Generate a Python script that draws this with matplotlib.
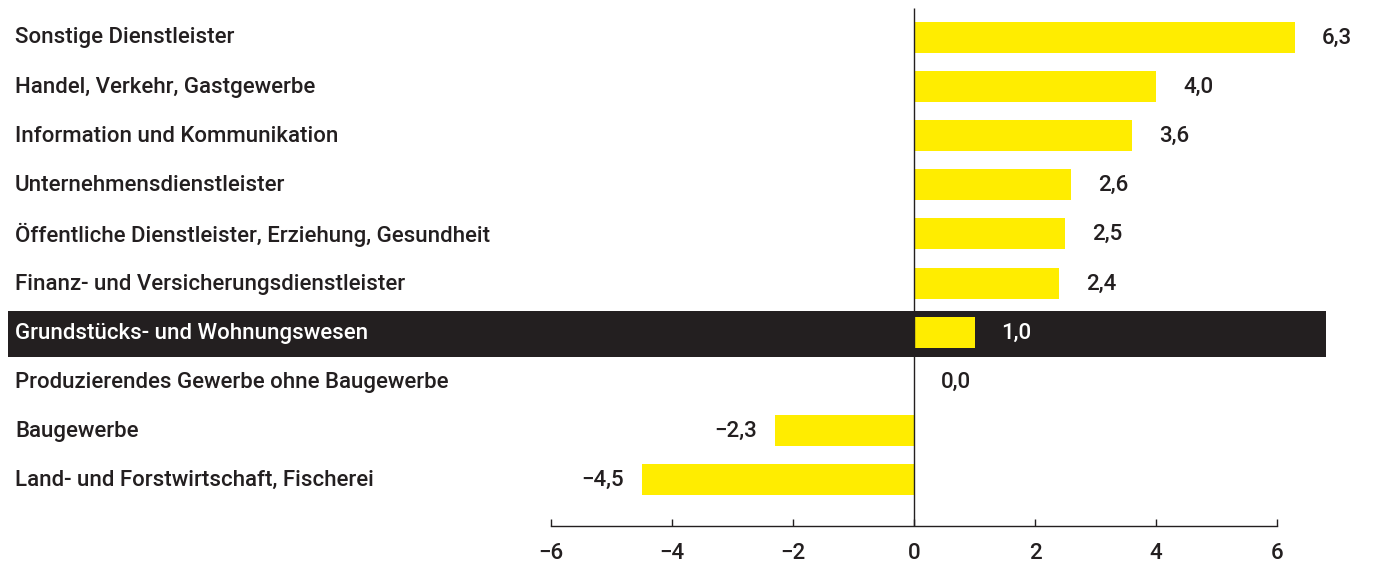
import matplotlib
matplotlib.use("Agg")
import matplotlib.pyplot as plt
from matplotlib.patches import Rectangle

categories = [
    "Sonstige Dienstleister",
    "Handel, Verkehr, Gastgewerbe",
    "Information und Kommunikation",
    "Unternehmensdienstleister",
    "Öffentliche Dienstleister, Erziehung, Gesundheit",
    "Finanz- und Versicherungsdienstleister",
    "Grundstücks- und Wohnungswesen",
    "Produzierendes Gewerbe ohne Baugewerbe",
    "Baugewerbe",
    "Land- und Forstwirtschaft, Fischerei",
]
values = [6.3, 4.0, 3.6, 2.6, 2.5, 2.4, 1.0, 0.0, -2.3, -4.5]
highlight = "Grundstücks- und Wohnungswesen"
xticks = [-6, -4, -2, 0, 2, 4, 6]

YELLOW = "#FFED00"
DARK = "#231F20"

plt.rcParams["font.family"] = ["Roboto", "DejaVu Sans"]
plt.rcParams["font.weight"] = 500
plt.rcParams["axes.unicode_minus"] = False

fig = plt.figure(figsize=(13.74, 5.64), dpi=100)
ax = fig.add_axes([0, 0, 1, 1])
ax.set_xlim(-15.107, 7.603)
ax.set_ylim(10.71, -0.752)

ypos = list(range(len(categories)))

# dark band behind the highlighted row
for y, cat in zip(ypos, categories):
    if cat == highlight:
        ax.add_patch(Rectangle((-14.975, y - 0.435), 21.785, 0.935,
                               facecolor=DARK, edgecolor="none", zorder=0))

ax.barh(ypos, values, height=0.63, color=YELLOW, zorder=2)

axis_y = 9.94
ax.vlines(0, -0.59, axis_y, color=DARK, linewidth=1.0, zorder=3)

for y, cat, v in zip(ypos, categories, values):
    col = "white" if cat == highlight else DARK
    ax.text(-14.86, y + 0.02, cat, ha="left", va="center", fontsize=16, color=col)
    label = f"{v:.1f}".replace(".", ",").replace("-", "\u2212")
    if v >= 0:
        ax.annotate(label, (v, y + 0.02), xytext=(27, 0), textcoords="offset pixels",
                    ha="left", va="center", fontsize=16, color=col)
    else:
        ax.annotate(label, (v, y + 0.02), xytext=(-18, 0), textcoords="offset pixels",
                    ha="right", va="center", fontsize=16, color=col)

for s in ["top", "right", "left"]:
    ax.spines[s].set_visible(False)
ax.spines["bottom"].set_position(("data", axis_y))
ax.spines["bottom"].set_bounds(-6, 6)
ax.spines["bottom"].set_color(DARK)
ax.spines["bottom"].set_linewidth(1.0)
ax.set_yticks([])
ax.set_xticks(xticks)
ax.set_xticklabels([str(t).replace("-", "\u2212") for t in xticks])
ax.tick_params(axis="x", direction="in", length=5, width=1.0, color=DARK,
               labelsize=16, labelcolor=DARK, pad=12)

fig.savefig("out.png", dpi=100)
